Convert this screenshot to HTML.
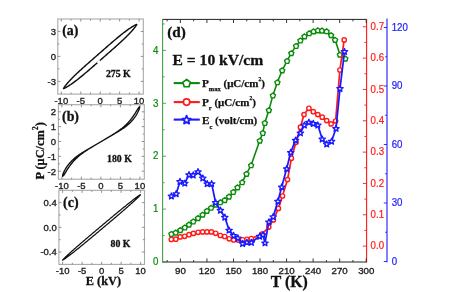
<!DOCTYPE html>
<html><head><meta charset="utf-8"><style>
html,body{margin:0;padding:0;background:#fff;width:473px;height:292px;overflow:hidden}
svg{display:block;will-change:transform;filter:blur(0.25px)}
</style></head><body>
<svg width="473" height="292" viewBox="0 0 473 292"><rect x="57.8" y="19" width="85.5" height="75.1" fill="none" stroke="#a8a8a8" stroke-width="1.1"/>
<line x1="61.3" y1="94.1" x2="61.3" y2="91.5" stroke="#777" stroke-width="0.8"/>
<line x1="61.3" y1="19" x2="61.3" y2="21.6" stroke="#777" stroke-width="0.8"/>
<line x1="71.03" y1="94.1" x2="71.03" y2="92.5" stroke="#777" stroke-width="0.8"/>
<line x1="71.03" y1="19" x2="71.03" y2="20.6" stroke="#777" stroke-width="0.8"/>
<line x1="80.75" y1="94.1" x2="80.75" y2="91.5" stroke="#777" stroke-width="0.8"/>
<line x1="80.75" y1="19" x2="80.75" y2="21.6" stroke="#777" stroke-width="0.8"/>
<line x1="90.48" y1="94.1" x2="90.48" y2="92.5" stroke="#777" stroke-width="0.8"/>
<line x1="90.48" y1="19" x2="90.48" y2="20.6" stroke="#777" stroke-width="0.8"/>
<line x1="100.2" y1="94.1" x2="100.2" y2="91.5" stroke="#777" stroke-width="0.8"/>
<line x1="100.2" y1="19" x2="100.2" y2="21.6" stroke="#777" stroke-width="0.8"/>
<line x1="109.92" y1="94.1" x2="109.92" y2="92.5" stroke="#777" stroke-width="0.8"/>
<line x1="109.92" y1="19" x2="109.92" y2="20.6" stroke="#777" stroke-width="0.8"/>
<line x1="119.65" y1="94.1" x2="119.65" y2="91.5" stroke="#777" stroke-width="0.8"/>
<line x1="119.65" y1="19" x2="119.65" y2="21.6" stroke="#777" stroke-width="0.8"/>
<line x1="129.38" y1="94.1" x2="129.38" y2="92.5" stroke="#777" stroke-width="0.8"/>
<line x1="129.38" y1="19" x2="129.38" y2="20.6" stroke="#777" stroke-width="0.8"/>
<line x1="139.1" y1="94.1" x2="139.1" y2="91.5" stroke="#777" stroke-width="0.8"/>
<line x1="139.1" y1="19" x2="139.1" y2="21.6" stroke="#777" stroke-width="0.8"/>
<line x1="57.8" y1="31.44" x2="60.4" y2="31.44" stroke="#777" stroke-width="0.8"/>
<line x1="143.3" y1="31.44" x2="140.7" y2="31.44" stroke="#777" stroke-width="0.8"/>
<text transform="translate(56,34.74) scale(1,1.0)" font-family="Liberation Sans" font-size="9.5" fill="#222" text-anchor="end" font-weight="normal" stroke="#222" stroke-width="0.35">3</text>
<line x1="57.8" y1="56.4" x2="60.4" y2="56.4" stroke="#777" stroke-width="0.8"/>
<line x1="143.3" y1="56.4" x2="140.7" y2="56.4" stroke="#777" stroke-width="0.8"/>
<text transform="translate(56,59.7) scale(1,1.0)" font-family="Liberation Sans" font-size="9.5" fill="#222" text-anchor="end" font-weight="normal" stroke="#222" stroke-width="0.35">0</text>
<line x1="57.8" y1="81.36" x2="60.4" y2="81.36" stroke="#777" stroke-width="0.8"/>
<line x1="143.3" y1="81.36" x2="140.7" y2="81.36" stroke="#777" stroke-width="0.8"/>
<text transform="translate(56,84.66) scale(1,1.0)" font-family="Liberation Sans" font-size="9.5" fill="#222" text-anchor="end" font-weight="normal" stroke="#222" stroke-width="0.35">-3</text>
<line x1="57.8" y1="43.92" x2="59.4" y2="43.92" stroke="#777" stroke-width="0.8"/>
<line x1="143.3" y1="43.92" x2="141.7" y2="43.92" stroke="#777" stroke-width="0.8"/>
<line x1="57.8" y1="68.88" x2="59.4" y2="68.88" stroke="#777" stroke-width="0.8"/>
<line x1="143.3" y1="68.88" x2="141.7" y2="68.88" stroke="#777" stroke-width="0.8"/>
<text transform="translate(61.3,103.7) scale(1,1.0)" font-family="Liberation Sans" font-size="9.5" fill="#222" text-anchor="middle" font-weight="normal" stroke="#222" stroke-width="0.35">-10</text>
<text transform="translate(80.75,103.7) scale(1,1.0)" font-family="Liberation Sans" font-size="9.5" fill="#222" text-anchor="middle" font-weight="normal" stroke="#222" stroke-width="0.35">-5</text>
<text transform="translate(100.2,103.7) scale(1,1.0)" font-family="Liberation Sans" font-size="9.5" fill="#222" text-anchor="middle" font-weight="normal" stroke="#222" stroke-width="0.35">0</text>
<text transform="translate(119.65,103.7) scale(1,1.0)" font-family="Liberation Sans" font-size="9.5" fill="#222" text-anchor="middle" font-weight="normal" stroke="#222" stroke-width="0.35">5</text>
<text transform="translate(139.1,103.7) scale(1,1.0)" font-family="Liberation Sans" font-size="9.5" fill="#222" text-anchor="middle" font-weight="normal" stroke="#222" stroke-width="0.35">10</text>
<text x="62.2" y="34.6" font-family="Liberation Serif" font-size="13.9" fill="#111" text-anchor="start" font-weight="bold" stroke="#111" stroke-width="0.3">(a)</text>
<text x="105.9" y="77.4" font-family="Liberation Serif" font-size="9.8" fill="#111" text-anchor="start" font-weight="bold" stroke="#111" stroke-width="0.3">275 K</text>
<rect x="58.4" y="104.7" width="85.9" height="74.5" fill="none" stroke="#a8a8a8" stroke-width="1.1"/>
<line x1="61.9" y1="179.2" x2="61.9" y2="176.6" stroke="#777" stroke-width="0.8"/>
<line x1="61.9" y1="104.7" x2="61.9" y2="107.3" stroke="#777" stroke-width="0.8"/>
<line x1="71.65" y1="179.2" x2="71.65" y2="177.6" stroke="#777" stroke-width="0.8"/>
<line x1="71.65" y1="104.7" x2="71.65" y2="106.3" stroke="#777" stroke-width="0.8"/>
<line x1="81.4" y1="179.2" x2="81.4" y2="176.6" stroke="#777" stroke-width="0.8"/>
<line x1="81.4" y1="104.7" x2="81.4" y2="107.3" stroke="#777" stroke-width="0.8"/>
<line x1="91.15" y1="179.2" x2="91.15" y2="177.6" stroke="#777" stroke-width="0.8"/>
<line x1="91.15" y1="104.7" x2="91.15" y2="106.3" stroke="#777" stroke-width="0.8"/>
<line x1="100.9" y1="179.2" x2="100.9" y2="176.6" stroke="#777" stroke-width="0.8"/>
<line x1="100.9" y1="104.7" x2="100.9" y2="107.3" stroke="#777" stroke-width="0.8"/>
<line x1="110.65" y1="179.2" x2="110.65" y2="177.6" stroke="#777" stroke-width="0.8"/>
<line x1="110.65" y1="104.7" x2="110.65" y2="106.3" stroke="#777" stroke-width="0.8"/>
<line x1="120.4" y1="179.2" x2="120.4" y2="176.6" stroke="#777" stroke-width="0.8"/>
<line x1="120.4" y1="104.7" x2="120.4" y2="107.3" stroke="#777" stroke-width="0.8"/>
<line x1="130.15" y1="179.2" x2="130.15" y2="177.6" stroke="#777" stroke-width="0.8"/>
<line x1="130.15" y1="104.7" x2="130.15" y2="106.3" stroke="#777" stroke-width="0.8"/>
<line x1="139.9" y1="179.2" x2="139.9" y2="176.6" stroke="#777" stroke-width="0.8"/>
<line x1="139.9" y1="104.7" x2="139.9" y2="107.3" stroke="#777" stroke-width="0.8"/>
<line x1="58.4" y1="111.8" x2="61" y2="111.8" stroke="#777" stroke-width="0.8"/>
<line x1="144.3" y1="111.8" x2="141.7" y2="111.8" stroke="#777" stroke-width="0.8"/>
<text transform="translate(56,115.1) scale(1,1.0)" font-family="Liberation Sans" font-size="9.5" fill="#222" text-anchor="end" font-weight="normal" stroke="#222" stroke-width="0.35">2</text>
<line x1="58.4" y1="126.65" x2="61" y2="126.65" stroke="#777" stroke-width="0.8"/>
<line x1="144.3" y1="126.65" x2="141.7" y2="126.65" stroke="#777" stroke-width="0.8"/>
<text transform="translate(56,129.95) scale(1,1.0)" font-family="Liberation Sans" font-size="9.5" fill="#222" text-anchor="end" font-weight="normal" stroke="#222" stroke-width="0.35">1</text>
<line x1="58.4" y1="141.5" x2="61" y2="141.5" stroke="#777" stroke-width="0.8"/>
<line x1="144.3" y1="141.5" x2="141.7" y2="141.5" stroke="#777" stroke-width="0.8"/>
<text transform="translate(56,144.8) scale(1,1.0)" font-family="Liberation Sans" font-size="9.5" fill="#222" text-anchor="end" font-weight="normal" stroke="#222" stroke-width="0.35">0</text>
<line x1="58.4" y1="156.35" x2="61" y2="156.35" stroke="#777" stroke-width="0.8"/>
<line x1="144.3" y1="156.35" x2="141.7" y2="156.35" stroke="#777" stroke-width="0.8"/>
<text transform="translate(56,159.65) scale(1,1.0)" font-family="Liberation Sans" font-size="9.5" fill="#222" text-anchor="end" font-weight="normal" stroke="#222" stroke-width="0.35">-1</text>
<line x1="58.4" y1="171.2" x2="61" y2="171.2" stroke="#777" stroke-width="0.8"/>
<line x1="144.3" y1="171.2" x2="141.7" y2="171.2" stroke="#777" stroke-width="0.8"/>
<text transform="translate(56,174.5) scale(1,1.0)" font-family="Liberation Sans" font-size="9.5" fill="#222" text-anchor="end" font-weight="normal" stroke="#222" stroke-width="0.35">-2</text>
<line x1="58.4" y1="119.22" x2="60" y2="119.22" stroke="#777" stroke-width="0.8"/>
<line x1="144.3" y1="119.22" x2="142.7" y2="119.22" stroke="#777" stroke-width="0.8"/>
<line x1="58.4" y1="134.07" x2="60" y2="134.07" stroke="#777" stroke-width="0.8"/>
<line x1="144.3" y1="134.07" x2="142.7" y2="134.07" stroke="#777" stroke-width="0.8"/>
<line x1="58.4" y1="148.93" x2="60" y2="148.93" stroke="#777" stroke-width="0.8"/>
<line x1="144.3" y1="148.93" x2="142.7" y2="148.93" stroke="#777" stroke-width="0.8"/>
<line x1="58.4" y1="163.78" x2="60" y2="163.78" stroke="#777" stroke-width="0.8"/>
<line x1="144.3" y1="163.78" x2="142.7" y2="163.78" stroke="#777" stroke-width="0.8"/>
<text transform="translate(61.9,188.8) scale(1,1.0)" font-family="Liberation Sans" font-size="9.5" fill="#222" text-anchor="middle" font-weight="normal" stroke="#222" stroke-width="0.35">-10</text>
<text transform="translate(81.4,188.8) scale(1,1.0)" font-family="Liberation Sans" font-size="9.5" fill="#222" text-anchor="middle" font-weight="normal" stroke="#222" stroke-width="0.35">-5</text>
<text transform="translate(100.9,188.8) scale(1,1.0)" font-family="Liberation Sans" font-size="9.5" fill="#222" text-anchor="middle" font-weight="normal" stroke="#222" stroke-width="0.35">0</text>
<text transform="translate(120.4,188.8) scale(1,1.0)" font-family="Liberation Sans" font-size="9.5" fill="#222" text-anchor="middle" font-weight="normal" stroke="#222" stroke-width="0.35">5</text>
<text transform="translate(139.9,188.8) scale(1,1.0)" font-family="Liberation Sans" font-size="9.5" fill="#222" text-anchor="middle" font-weight="normal" stroke="#222" stroke-width="0.35">10</text>
<text x="62" y="121.4" font-family="Liberation Serif" font-size="13.9" fill="#111" text-anchor="start" font-weight="bold" stroke="#111" stroke-width="0.3">(b)</text>
<text x="107" y="161.8" font-family="Liberation Serif" font-size="9.8" fill="#111" text-anchor="start" font-weight="bold" stroke="#111" stroke-width="0.3">180 K</text>
<rect x="58.9" y="190.3" width="85.6" height="74.1" fill="none" stroke="#a8a8a8" stroke-width="1.1"/>
<line x1="62.6" y1="264.4" x2="62.6" y2="261.8" stroke="#777" stroke-width="0.8"/>
<line x1="62.6" y1="190.3" x2="62.6" y2="192.9" stroke="#777" stroke-width="0.8"/>
<line x1="72.35" y1="264.4" x2="72.35" y2="262.8" stroke="#777" stroke-width="0.8"/>
<line x1="72.35" y1="190.3" x2="72.35" y2="191.9" stroke="#777" stroke-width="0.8"/>
<line x1="82.1" y1="264.4" x2="82.1" y2="261.8" stroke="#777" stroke-width="0.8"/>
<line x1="82.1" y1="190.3" x2="82.1" y2="192.9" stroke="#777" stroke-width="0.8"/>
<line x1="91.85" y1="264.4" x2="91.85" y2="262.8" stroke="#777" stroke-width="0.8"/>
<line x1="91.85" y1="190.3" x2="91.85" y2="191.9" stroke="#777" stroke-width="0.8"/>
<line x1="101.6" y1="264.4" x2="101.6" y2="261.8" stroke="#777" stroke-width="0.8"/>
<line x1="101.6" y1="190.3" x2="101.6" y2="192.9" stroke="#777" stroke-width="0.8"/>
<line x1="111.35" y1="264.4" x2="111.35" y2="262.8" stroke="#777" stroke-width="0.8"/>
<line x1="111.35" y1="190.3" x2="111.35" y2="191.9" stroke="#777" stroke-width="0.8"/>
<line x1="121.1" y1="264.4" x2="121.1" y2="261.8" stroke="#777" stroke-width="0.8"/>
<line x1="121.1" y1="190.3" x2="121.1" y2="192.9" stroke="#777" stroke-width="0.8"/>
<line x1="130.85" y1="264.4" x2="130.85" y2="262.8" stroke="#777" stroke-width="0.8"/>
<line x1="130.85" y1="190.3" x2="130.85" y2="191.9" stroke="#777" stroke-width="0.8"/>
<line x1="140.6" y1="264.4" x2="140.6" y2="261.8" stroke="#777" stroke-width="0.8"/>
<line x1="140.6" y1="190.3" x2="140.6" y2="192.9" stroke="#777" stroke-width="0.8"/>
<line x1="58.9" y1="202.6" x2="61.5" y2="202.6" stroke="#777" stroke-width="0.8"/>
<line x1="144.5" y1="202.6" x2="141.9" y2="202.6" stroke="#777" stroke-width="0.8"/>
<text transform="translate(56.8,205.9) scale(1,1.0)" font-family="Liberation Sans" font-size="9.5" fill="#222" text-anchor="end" font-weight="normal" stroke="#222" stroke-width="0.35">0.4</text>
<line x1="58.9" y1="227.3" x2="61.5" y2="227.3" stroke="#777" stroke-width="0.8"/>
<line x1="144.5" y1="227.3" x2="141.9" y2="227.3" stroke="#777" stroke-width="0.8"/>
<text transform="translate(56.8,230.6) scale(1,1.0)" font-family="Liberation Sans" font-size="9.5" fill="#222" text-anchor="end" font-weight="normal" stroke="#222" stroke-width="0.35">0.0</text>
<line x1="58.9" y1="252" x2="61.5" y2="252" stroke="#777" stroke-width="0.8"/>
<line x1="144.5" y1="252" x2="141.9" y2="252" stroke="#777" stroke-width="0.8"/>
<text transform="translate(56.8,255.3) scale(1,1.0)" font-family="Liberation Sans" font-size="9.5" fill="#222" text-anchor="end" font-weight="normal" stroke="#222" stroke-width="0.35">-0.4</text>
<line x1="58.9" y1="214.95" x2="60.5" y2="214.95" stroke="#777" stroke-width="0.8"/>
<line x1="144.5" y1="214.95" x2="142.9" y2="214.95" stroke="#777" stroke-width="0.8"/>
<line x1="58.9" y1="239.65" x2="60.5" y2="239.65" stroke="#777" stroke-width="0.8"/>
<line x1="144.5" y1="239.65" x2="142.9" y2="239.65" stroke="#777" stroke-width="0.8"/>
<text transform="translate(62.6,274) scale(1,1.0)" font-family="Liberation Sans" font-size="9.5" fill="#222" text-anchor="middle" font-weight="normal" stroke="#222" stroke-width="0.35">-10</text>
<text transform="translate(82.1,274) scale(1,1.0)" font-family="Liberation Sans" font-size="9.5" fill="#222" text-anchor="middle" font-weight="normal" stroke="#222" stroke-width="0.35">-5</text>
<text transform="translate(101.6,274) scale(1,1.0)" font-family="Liberation Sans" font-size="9.5" fill="#222" text-anchor="middle" font-weight="normal" stroke="#222" stroke-width="0.35">0</text>
<text transform="translate(121.1,274) scale(1,1.0)" font-family="Liberation Sans" font-size="9.5" fill="#222" text-anchor="middle" font-weight="normal" stroke="#222" stroke-width="0.35">5</text>
<text transform="translate(140.6,274) scale(1,1.0)" font-family="Liberation Sans" font-size="9.5" fill="#222" text-anchor="middle" font-weight="normal" stroke="#222" stroke-width="0.35">10</text>
<text x="63.1" y="207.4" font-family="Liberation Serif" font-size="13.9" fill="#111" text-anchor="start" font-weight="bold" stroke="#111" stroke-width="0.3">(c)</text>
<text x="110.6" y="246.8" font-family="Liberation Serif" font-size="9.8" fill="#111" text-anchor="start" font-weight="bold" stroke="#111" stroke-width="0.3">80 K</text>
<path d="M63.5,88.6 L63.9,87.82 L64.36,87.12 L64.84,86.44 L65.34,85.77 L65.85,85.12 L66.37,84.48 L66.89,83.84 L67.42,83.22 L67.96,82.6 L68.5,81.98 L69.05,81.38 L69.6,80.77 L70.15,80.18 L70.71,79.58 L71.28,78.99 L71.84,78.41 L72.41,77.83 L72.99,77.25 L73.56,76.67 L74.14,76.1 L74.72,75.53 L75.31,74.97 L75.89,74.4 L76.48,73.84 L77.07,73.28 L77.66,72.72 L78.25,72.17 L78.85,71.62 L79.44,71.06 L80.04,70.51 L80.64,69.97 L81.24,69.42 L81.84,68.87 L82.44,68.33 L83.05,67.78 L83.65,67.24 L84.26,66.7 L84.86,66.16 L85.47,65.62 L86.07,65.08 L86.68,64.54 L87.29,64 L87.9,63.46 L88.51,62.92 L89.12,62.39 L89.73,61.85 L90.33,61.31 L90.94,60.78 L91.55,60.24 L92.17,59.71 L92.78,59.17 L93.39,58.64 L94,58.1 L94.61,57.57 L95.22,57.03 L95.83,56.5 L96.44,55.96 L97.05,55.43 L97.66,54.89 L98.27,54.36 L98.88,53.82 L99.49,53.29 L100.1,52.75 L100.72,52.22 L101.33,51.68 L101.94,51.15 L102.55,50.61 L103.16,50.08 L103.77,49.54 L104.38,49.01 L104.99,48.47 L105.6,47.94 L106.22,47.4 L106.83,46.87 L107.44,46.34 L108.05,45.8 L108.67,45.27 L109.28,44.74 L109.89,44.21 L110.51,43.68 L111.12,43.15 L111.74,42.62 L112.35,42.09 L112.97,41.56 L113.59,41.03 L114.21,40.51 L114.83,39.98 L115.45,39.46 L116.07,38.94 L116.69,38.41 L117.32,37.89 L117.94,37.38 L118.57,36.86 L119.2,36.34 L119.83,35.83 L120.46,35.32 L121.09,34.81 L121.73,34.31 L122.37,33.8 L123.01,33.3 L123.65,32.8 L124.3,32.31 L124.95,31.82 L125.6,31.33 L126.25,30.84 L126.91,30.36 L127.57,29.89 L128.24,29.41 L128.91,28.95 L129.58,28.48 L130.26,28.03 L130.95,27.58 L131.64,27.13 L132.34,26.7 L133.04,26.27 L133.75,25.85 L134.48,25.45 L135.22,25.06 L135.98,24.69 L136.8,24.4 L136.8,24.4 L136.4,25.18 L135.94,25.88 L135.46,26.56 L134.96,27.23 L134.45,27.88 L133.93,28.52 L133.41,29.16 L132.88,29.78 L132.34,30.4 L131.8,31.02 L131.25,31.62 L130.7,32.23 L130.15,32.82 L129.59,33.42 L129.02,34.01 L128.46,34.59 L127.89,35.17 L127.31,35.75 L126.74,36.33 L126.16,36.9 L125.58,37.47 L124.99,38.03 L124.41,38.6 L123.82,39.16 L123.23,39.72 L122.64,40.28 L122.05,40.83 L121.45,41.38 L120.86,41.94 L120.26,42.49 L119.66,43.03 L119.06,43.58 L118.46,44.13 L117.86,44.67 L117.25,45.22 L116.65,45.76 L116.04,46.3 L115.44,46.84 L114.83,47.38 L114.23,47.92 L113.62,48.46 L113.01,49 L112.4,49.54 L111.79,50.08 L111.18,50.61 L110.57,51.15 L109.97,51.69 L109.36,52.22 L108.75,52.76 L108.13,53.29 L107.52,53.83 L106.91,54.36 L106.3,54.9 L105.69,55.43 L105.08,55.97 L104.47,56.5 L103.86,57.04 L103.25,57.57 L102.64,58.11 L102.03,58.64 L101.42,59.18 L100.81,59.71 L100.2,60.25 L99.58,60.78 L98.97,61.32 L98.36,61.85 L97.75,62.39 L97.14,62.92 L96.53,63.46 L95.92,63.99 L95.31,64.53 L94.7,65.06 L94.08,65.6 L93.47,66.13 L92.86,66.66 L92.25,67.2 L91.63,67.73 L91.02,68.26 L90.41,68.79 L89.79,69.32 L89.18,69.85 L88.56,70.38 L87.95,70.91 L87.33,71.44 L86.71,71.97 L86.09,72.49 L85.47,73.02 L84.85,73.54 L84.23,74.06 L83.61,74.59 L82.98,75.11 L82.36,75.62 L81.73,76.14 L81.1,76.66 L80.47,77.17 L79.84,77.68 L79.21,78.19 L78.57,78.69 L77.93,79.2 L77.29,79.7 L76.65,80.2 L76,80.69 L75.35,81.18 L74.7,81.67 L74.05,82.16 L73.39,82.64 L72.73,83.11 L72.06,83.59 L71.39,84.05 L70.72,84.52 L70.04,84.97 L69.35,85.42 L68.66,85.87 L67.96,86.3 L67.26,86.73 L66.55,87.15 L65.82,87.55 L65.08,87.94 L64.32,88.31 L63.5,88.6 Z" fill="none" stroke="#111" stroke-width="1.45" stroke-linejoin="round"/>
<line x1="97.5" y1="63.0" x2="99.9" y2="60.7" stroke="#fff" stroke-width="2.4"/>
<path d="M62.59,176.38 L62.73,174.79 L63.24,173.42 L63.8,172.14 L64.4,170.92 L65.01,169.77 L65.65,168.68 L66.29,167.65 L66.95,166.66 L67.61,165.73 L68.27,164.84 L68.94,163.99 L69.61,163.18 L70.29,162.41 L70.96,161.67 L71.64,160.97 L72.32,160.3 L72.99,159.66 L73.67,159.04 L74.34,158.45 L75.02,157.88 L75.69,157.33 L76.36,156.8 L77.03,156.29 L77.7,155.8 L78.36,155.32 L79.03,154.85 L79.69,154.4 L80.36,153.95 L81.02,153.52 L81.68,153.09 L82.33,152.68 L82.99,152.27 L83.65,151.86 L84.3,151.46 L84.96,151.07 L85.61,150.68 L86.26,150.29 L86.91,149.91 L87.56,149.52 L88.21,149.14 L88.86,148.76 L89.51,148.39 L90.16,148.01 L90.8,147.63 L91.45,147.26 L92.1,146.88 L92.74,146.51 L93.39,146.13 L94.03,145.75 L94.68,145.38 L95.32,145 L95.96,144.62 L96.6,144.25 L97.25,143.87 L97.89,143.49 L98.53,143.11 L99.17,142.74 L99.82,142.36 L100.46,141.98 L101.1,141.6 L101.74,141.22 L102.38,140.84 L103.03,140.46 L103.67,140.08 L104.31,139.71 L104.95,139.33 L105.59,138.95 L106.23,138.56 L106.87,138.18 L107.51,137.8 L108.15,137.42 L108.79,137.03 L109.43,136.65 L110.07,136.26 L110.71,135.87 L111.34,135.48 L111.98,135.09 L112.62,134.69 L113.25,134.3 L113.89,133.9 L114.52,133.49 L115.16,133.08 L115.79,132.67 L116.42,132.25 L117.05,131.83 L117.68,131.4 L118.31,130.97 L118.94,130.52 L119.56,130.08 L120.19,129.62 L120.81,129.15 L121.43,128.67 L122.06,128.19 L122.67,127.69 L123.29,127.18 L123.91,126.65 L124.53,126.12 L125.14,125.56 L125.75,124.99 L126.36,124.41 L126.97,123.8 L127.58,123.17 L128.19,122.53 L128.8,121.86 L129.41,121.16 L130.01,120.44 L130.62,119.7 L131.23,118.92 L131.84,118.11 L132.46,117.27 L133.08,116.39 L133.7,115.48 L134.33,114.53 L134.97,113.54 L135.62,112.5 L136.28,111.42 L136.97,110.3 L137.69,109.13 L138.47,107.92 L139.61,106.82 L139.61,106.82 L139.47,108.41 L138.96,109.78 L138.4,111.06 L137.8,112.28 L137.19,113.43 L136.55,114.52 L135.91,115.55 L135.25,116.54 L134.59,117.47 L133.93,118.36 L133.26,119.21 L132.59,120.02 L131.91,120.79 L131.24,121.53 L130.56,122.23 L129.88,122.9 L129.21,123.54 L128.53,124.16 L127.86,124.75 L127.18,125.32 L126.51,125.87 L125.84,126.4 L125.17,126.91 L124.5,127.4 L123.84,127.88 L123.17,128.35 L122.51,128.8 L121.84,129.25 L121.18,129.68 L120.52,130.11 L119.87,130.52 L119.21,130.93 L118.55,131.34 L117.9,131.74 L117.24,132.13 L116.59,132.52 L115.94,132.91 L115.29,133.29 L114.64,133.68 L113.99,134.06 L113.34,134.44 L112.69,134.81 L112.04,135.19 L111.4,135.57 L110.75,135.94 L110.1,136.32 L109.46,136.69 L108.81,137.07 L108.17,137.45 L107.52,137.82 L106.88,138.2 L106.24,138.58 L105.6,138.95 L104.95,139.33 L104.31,139.71 L103.67,140.09 L103.03,140.46 L102.38,140.84 L101.74,141.22 L101.1,141.6 L100.46,141.98 L99.82,142.36 L99.17,142.74 L98.53,143.12 L97.89,143.49 L97.25,143.87 L96.61,144.25 L95.97,144.64 L95.33,145.02 L94.69,145.4 L94.05,145.78 L93.41,146.17 L92.77,146.55 L92.13,146.94 L91.49,147.33 L90.86,147.72 L90.22,148.11 L89.58,148.51 L88.95,148.9 L88.31,149.3 L87.68,149.71 L87.04,150.12 L86.41,150.53 L85.78,150.95 L85.15,151.37 L84.52,151.8 L83.89,152.23 L83.26,152.68 L82.64,153.12 L82.01,153.58 L81.39,154.05 L80.77,154.53 L80.14,155.01 L79.53,155.51 L78.91,156.02 L78.29,156.55 L77.67,157.08 L77.06,157.64 L76.45,158.21 L75.84,158.79 L75.23,159.4 L74.62,160.03 L74.01,160.67 L73.4,161.34 L72.79,162.04 L72.19,162.76 L71.58,163.5 L70.97,164.28 L70.36,165.09 L69.74,165.93 L69.12,166.81 L68.5,167.72 L67.87,168.67 L67.23,169.66 L66.58,170.7 L65.92,171.78 L65.23,172.9 L64.51,174.07 L63.73,175.28 L62.59,176.38 Z" fill="none" stroke="#111" stroke-width="1.35" stroke-linejoin="round"/>
<path d="M62.6,260.2 L63.12,259.5 L63.7,258.87 L64.3,258.27 L64.9,257.67 L65.51,257.07 L66.13,256.49 L66.75,255.9 L67.37,255.32 L67.99,254.75 L68.61,254.17 L69.24,253.6 L69.87,253.03 L70.5,252.46 L71.13,251.89 L71.76,251.32 L72.39,250.76 L73.03,250.19 L73.66,249.63 L74.3,249.07 L74.93,248.51 L75.57,247.95 L76.21,247.39 L76.85,246.83 L77.48,246.27 L78.12,245.72 L78.77,245.16 L79.41,244.6 L80.05,244.05 L80.69,243.5 L81.33,242.94 L81.98,242.39 L82.62,241.84 L83.26,241.28 L83.91,240.73 L84.55,240.18 L85.2,239.63 L85.84,239.08 L86.49,238.53 L87.13,237.98 L87.78,237.43 L88.43,236.88 L89.07,236.33 L89.72,235.79 L90.37,235.24 L91.02,234.69 L91.66,234.14 L92.31,233.59 L92.96,233.05 L93.61,232.5 L94.26,231.95 L94.9,231.41 L95.55,230.86 L96.2,230.32 L96.85,229.77 L97.5,229.22 L98.15,228.68 L98.8,228.13 L99.45,227.58 L100.1,227.04 L100.75,226.49 L101.39,225.95 L102.04,225.4 L102.69,224.86 L103.34,224.31 L103.99,223.76 L104.64,223.22 L105.29,222.67 L105.94,222.13 L106.59,221.58 L107.24,221.04 L107.89,220.49 L108.54,219.95 L109.19,219.4 L109.84,218.86 L110.49,218.31 L111.14,217.77 L111.79,217.23 L112.44,216.68 L113.1,216.14 L113.75,215.6 L114.4,215.06 L115.05,214.51 L115.7,213.97 L116.36,213.43 L117.01,212.89 L117.66,212.35 L118.32,211.81 L118.97,211.27 L119.63,210.73 L120.28,210.19 L120.94,209.65 L121.59,209.12 L122.25,208.58 L122.91,208.04 L123.57,207.51 L124.22,206.97 L124.88,206.44 L125.54,205.91 L126.2,205.37 L126.87,204.84 L127.53,204.31 L128.19,203.78 L128.85,203.25 L129.52,202.73 L130.18,202.2 L130.85,201.67 L131.52,201.15 L132.19,200.63 L132.86,200.11 L133.53,199.59 L134.2,199.07 L134.88,198.56 L135.56,198.05 L136.24,197.54 L136.92,197.03 L137.61,196.53 L138.3,196.04 L139,195.56 L139.72,195.09 L140.5,194.7 L140.5,194.7 L139.98,195.4 L139.4,196.03 L138.8,196.63 L138.2,197.23 L137.59,197.83 L136.97,198.41 L136.35,199 L135.73,199.58 L135.11,200.15 L134.49,200.73 L133.86,201.3 L133.23,201.87 L132.6,202.44 L131.97,203.01 L131.34,203.58 L130.71,204.14 L130.07,204.71 L129.44,205.27 L128.8,205.83 L128.17,206.39 L127.53,206.95 L126.89,207.51 L126.25,208.07 L125.62,208.63 L124.98,209.18 L124.33,209.74 L123.69,210.3 L123.05,210.85 L122.41,211.4 L121.77,211.96 L121.12,212.51 L120.48,213.06 L119.84,213.62 L119.19,214.17 L118.55,214.72 L117.9,215.27 L117.26,215.82 L116.61,216.37 L115.97,216.92 L115.32,217.47 L114.67,218.02 L114.03,218.57 L113.38,219.11 L112.73,219.66 L112.08,220.21 L111.44,220.76 L110.79,221.31 L110.14,221.85 L109.49,222.4 L108.84,222.95 L108.2,223.49 L107.55,224.04 L106.9,224.58 L106.25,225.13 L105.6,225.68 L104.95,226.22 L104.3,226.77 L103.65,227.32 L103,227.86 L102.35,228.41 L101.71,228.95 L101.06,229.5 L100.41,230.04 L99.76,230.59 L99.11,231.14 L98.46,231.68 L97.81,232.23 L97.16,232.77 L96.51,233.32 L95.86,233.86 L95.21,234.41 L94.56,234.95 L93.91,235.5 L93.26,236.04 L92.61,236.59 L91.96,237.13 L91.31,237.67 L90.66,238.22 L90,238.76 L89.35,239.3 L88.7,239.84 L88.05,240.39 L87.4,240.93 L86.74,241.47 L86.09,242.01 L85.44,242.55 L84.78,243.09 L84.13,243.63 L83.47,244.17 L82.82,244.71 L82.16,245.25 L81.51,245.78 L80.85,246.32 L80.19,246.86 L79.53,247.39 L78.88,247.93 L78.22,248.46 L77.56,248.99 L76.9,249.53 L76.23,250.06 L75.57,250.59 L74.91,251.12 L74.25,251.65 L73.58,252.17 L72.92,252.7 L72.25,253.23 L71.58,253.75 L70.91,254.27 L70.24,254.79 L69.57,255.31 L68.9,255.83 L68.22,256.34 L67.54,256.85 L66.86,257.36 L66.18,257.87 L65.49,258.37 L64.8,258.86 L64.1,259.34 L63.38,259.81 L62.6,260.2 Z" fill="none" stroke="#111" stroke-width="1.25" stroke-linejoin="round"/>
<text transform="translate(44.2,179.5) rotate(-90)" font-family="Liberation Serif" font-size="12.4" font-weight="bold" fill="#111" stroke="#111" stroke-width="0.3">P (&#956;C/cm<tspan dy="-6.2" dx="0.1" font-size="7.4">2</tspan><tspan dy="6.2" dx="0.1">)</tspan></text>
<text x="85.8" y="284.8" font-family="Liberation Serif" font-size="12.3" fill="#111" text-anchor="start" font-weight="bold" stroke="#111" stroke-width="0.3">E (kV)</text>
<line x1="162.1" y1="19.4" x2="366.6" y2="19.4" stroke="#222" stroke-width="1"/>
<line x1="162.1" y1="262" x2="366.6" y2="262" stroke="#222" stroke-width="1"/>
<line x1="162.6" y1="18.9" x2="162.6" y2="262.5" stroke="#3fa03f" stroke-width="1.1"/>
<line x1="366.6" y1="18.9" x2="366.6" y2="262.5" stroke="#ff1a1a" stroke-width="1.1"/>
<line x1="387" y1="18.5" x2="387" y2="262.3" stroke="#1a1aff" stroke-width="1.1"/>
<line x1="167.13" y1="262" x2="167.13" y2="260" stroke="#222" stroke-width="0.9"/>
<line x1="167.13" y1="19.4" x2="167.13" y2="21.4" stroke="#222" stroke-width="0.9"/>
<line x1="180.4" y1="262" x2="180.4" y2="258.4" stroke="#222" stroke-width="0.9"/>
<line x1="180.4" y1="19.4" x2="180.4" y2="23" stroke="#222" stroke-width="0.9"/>
<text transform="translate(180.4,273.8) scale(1,1.0)" font-family="Liberation Sans" font-size="9.7" fill="#222" text-anchor="middle" font-weight="normal" stroke="#222" stroke-width="0.35">90</text>
<line x1="193.67" y1="262" x2="193.67" y2="260" stroke="#222" stroke-width="0.9"/>
<line x1="193.67" y1="19.4" x2="193.67" y2="21.4" stroke="#222" stroke-width="0.9"/>
<line x1="206.94" y1="262" x2="206.94" y2="258.4" stroke="#222" stroke-width="0.9"/>
<line x1="206.94" y1="19.4" x2="206.94" y2="23" stroke="#222" stroke-width="0.9"/>
<text transform="translate(206.94,273.8) scale(1,1.0)" font-family="Liberation Sans" font-size="9.7" fill="#222" text-anchor="middle" font-weight="normal" stroke="#222" stroke-width="0.35">120</text>
<line x1="220.22" y1="262" x2="220.22" y2="260" stroke="#222" stroke-width="0.9"/>
<line x1="220.22" y1="19.4" x2="220.22" y2="21.4" stroke="#222" stroke-width="0.9"/>
<line x1="233.49" y1="262" x2="233.49" y2="258.4" stroke="#222" stroke-width="0.9"/>
<line x1="233.49" y1="19.4" x2="233.49" y2="23" stroke="#222" stroke-width="0.9"/>
<text transform="translate(233.49,273.8) scale(1,1.0)" font-family="Liberation Sans" font-size="9.7" fill="#222" text-anchor="middle" font-weight="normal" stroke="#222" stroke-width="0.35">150</text>
<line x1="246.76" y1="262" x2="246.76" y2="260" stroke="#222" stroke-width="0.9"/>
<line x1="246.76" y1="19.4" x2="246.76" y2="21.4" stroke="#222" stroke-width="0.9"/>
<line x1="260.03" y1="262" x2="260.03" y2="258.4" stroke="#222" stroke-width="0.9"/>
<line x1="260.03" y1="19.4" x2="260.03" y2="23" stroke="#222" stroke-width="0.9"/>
<text transform="translate(260.03,273.8) scale(1,1.0)" font-family="Liberation Sans" font-size="9.7" fill="#222" text-anchor="middle" font-weight="normal" stroke="#222" stroke-width="0.35">180</text>
<line x1="273.3" y1="262" x2="273.3" y2="260" stroke="#222" stroke-width="0.9"/>
<line x1="273.3" y1="19.4" x2="273.3" y2="21.4" stroke="#222" stroke-width="0.9"/>
<line x1="286.58" y1="262" x2="286.58" y2="258.4" stroke="#222" stroke-width="0.9"/>
<line x1="286.58" y1="19.4" x2="286.58" y2="23" stroke="#222" stroke-width="0.9"/>
<text transform="translate(286.58,273.8) scale(1,1.0)" font-family="Liberation Sans" font-size="9.7" fill="#222" text-anchor="middle" font-weight="normal" stroke="#222" stroke-width="0.35">210</text>
<line x1="299.85" y1="262" x2="299.85" y2="260" stroke="#222" stroke-width="0.9"/>
<line x1="299.85" y1="19.4" x2="299.85" y2="21.4" stroke="#222" stroke-width="0.9"/>
<line x1="313.12" y1="262" x2="313.12" y2="258.4" stroke="#222" stroke-width="0.9"/>
<line x1="313.12" y1="19.4" x2="313.12" y2="23" stroke="#222" stroke-width="0.9"/>
<text transform="translate(313.12,273.8) scale(1,1.0)" font-family="Liberation Sans" font-size="9.7" fill="#222" text-anchor="middle" font-weight="normal" stroke="#222" stroke-width="0.35">240</text>
<line x1="326.39" y1="262" x2="326.39" y2="260" stroke="#222" stroke-width="0.9"/>
<line x1="326.39" y1="19.4" x2="326.39" y2="21.4" stroke="#222" stroke-width="0.9"/>
<line x1="339.66" y1="262" x2="339.66" y2="258.4" stroke="#222" stroke-width="0.9"/>
<line x1="339.66" y1="19.4" x2="339.66" y2="23" stroke="#222" stroke-width="0.9"/>
<text transform="translate(339.66,273.8) scale(1,1.0)" font-family="Liberation Sans" font-size="9.7" fill="#222" text-anchor="middle" font-weight="normal" stroke="#222" stroke-width="0.35">270</text>
<line x1="352.94" y1="262" x2="352.94" y2="260" stroke="#222" stroke-width="0.9"/>
<line x1="352.94" y1="19.4" x2="352.94" y2="21.4" stroke="#222" stroke-width="0.9"/>
<line x1="366.21" y1="262" x2="366.21" y2="258.4" stroke="#222" stroke-width="0.9"/>
<line x1="366.21" y1="19.4" x2="366.21" y2="23" stroke="#222" stroke-width="0.9"/>
<text transform="translate(366.21,273.8) scale(1,1.0)" font-family="Liberation Sans" font-size="9.7" fill="#222" text-anchor="middle" font-weight="normal" stroke="#222" stroke-width="0.35">300</text>
<line x1="162.6" y1="262" x2="166" y2="262" stroke="#3fa03f" stroke-width="0.9"/>
<text transform="translate(158.5,265.2) scale(1,1.1)" font-family="Liberation Sans" font-size="9.7" fill="#0a8a0a" text-anchor="end" font-weight="normal" stroke="#0a8a0a" stroke-width="0.2">0</text>
<line x1="162.6" y1="235.55" x2="164.6" y2="235.55" stroke="#3fa03f" stroke-width="0.9"/>
<line x1="162.6" y1="209.1" x2="166" y2="209.1" stroke="#3fa03f" stroke-width="0.9"/>
<text transform="translate(158.5,212.3) scale(1,1.1)" font-family="Liberation Sans" font-size="9.7" fill="#0a8a0a" text-anchor="end" font-weight="normal" stroke="#0a8a0a" stroke-width="0.2">1</text>
<line x1="162.6" y1="182.65" x2="164.6" y2="182.65" stroke="#3fa03f" stroke-width="0.9"/>
<line x1="162.6" y1="156.2" x2="166" y2="156.2" stroke="#3fa03f" stroke-width="0.9"/>
<text transform="translate(158.5,159.4) scale(1,1.1)" font-family="Liberation Sans" font-size="9.7" fill="#0a8a0a" text-anchor="end" font-weight="normal" stroke="#0a8a0a" stroke-width="0.2">2</text>
<line x1="162.6" y1="129.75" x2="164.6" y2="129.75" stroke="#3fa03f" stroke-width="0.9"/>
<line x1="162.6" y1="103.3" x2="166" y2="103.3" stroke="#3fa03f" stroke-width="0.9"/>
<text transform="translate(158.5,106.5) scale(1,1.1)" font-family="Liberation Sans" font-size="9.7" fill="#0a8a0a" text-anchor="end" font-weight="normal" stroke="#0a8a0a" stroke-width="0.2">3</text>
<line x1="162.6" y1="76.85" x2="164.6" y2="76.85" stroke="#3fa03f" stroke-width="0.9"/>
<line x1="162.6" y1="50.4" x2="166" y2="50.4" stroke="#3fa03f" stroke-width="0.9"/>
<text transform="translate(158.5,53.6) scale(1,1.1)" font-family="Liberation Sans" font-size="9.7" fill="#0a8a0a" text-anchor="end" font-weight="normal" stroke="#0a8a0a" stroke-width="0.2">4</text>
<line x1="162.6" y1="23.95" x2="164.6" y2="23.95" stroke="#3fa03f" stroke-width="0.9"/>
<line x1="366.6" y1="246.1" x2="362.8" y2="246.1" stroke="#ff1a1a" stroke-width="0.9"/>
<text transform="translate(370.6,249.3) scale(1,1.1)" font-family="Liberation Sans" font-size="9.7" fill="#ff1a1a" text-anchor="start" font-weight="normal" stroke="#ff1a1a" stroke-width="0.2">0.0</text>
<line x1="366.6" y1="230.44" x2="364.4" y2="230.44" stroke="#ff1a1a" stroke-width="0.9"/>
<line x1="366.6" y1="214.77" x2="362.8" y2="214.77" stroke="#ff1a1a" stroke-width="0.9"/>
<text transform="translate(370.6,217.97) scale(1,1.1)" font-family="Liberation Sans" font-size="9.7" fill="#ff1a1a" text-anchor="start" font-weight="normal" stroke="#ff1a1a" stroke-width="0.2">0.1</text>
<line x1="366.6" y1="199.1" x2="364.4" y2="199.1" stroke="#ff1a1a" stroke-width="0.9"/>
<line x1="366.6" y1="183.44" x2="362.8" y2="183.44" stroke="#ff1a1a" stroke-width="0.9"/>
<text transform="translate(370.6,186.64) scale(1,1.1)" font-family="Liberation Sans" font-size="9.7" fill="#ff1a1a" text-anchor="start" font-weight="normal" stroke="#ff1a1a" stroke-width="0.2">0.2</text>
<line x1="366.6" y1="167.77" x2="364.4" y2="167.77" stroke="#ff1a1a" stroke-width="0.9"/>
<line x1="366.6" y1="152.11" x2="362.8" y2="152.11" stroke="#ff1a1a" stroke-width="0.9"/>
<text transform="translate(370.6,155.31) scale(1,1.1)" font-family="Liberation Sans" font-size="9.7" fill="#ff1a1a" text-anchor="start" font-weight="normal" stroke="#ff1a1a" stroke-width="0.2">0.3</text>
<line x1="366.6" y1="136.44" x2="364.4" y2="136.44" stroke="#ff1a1a" stroke-width="0.9"/>
<line x1="366.6" y1="120.78" x2="362.8" y2="120.78" stroke="#ff1a1a" stroke-width="0.9"/>
<text transform="translate(370.6,123.98) scale(1,1.1)" font-family="Liberation Sans" font-size="9.7" fill="#ff1a1a" text-anchor="start" font-weight="normal" stroke="#ff1a1a" stroke-width="0.2">0.4</text>
<line x1="366.6" y1="105.11" x2="364.4" y2="105.11" stroke="#ff1a1a" stroke-width="0.9"/>
<line x1="366.6" y1="89.45" x2="362.8" y2="89.45" stroke="#ff1a1a" stroke-width="0.9"/>
<text transform="translate(370.6,92.65) scale(1,1.1)" font-family="Liberation Sans" font-size="9.7" fill="#ff1a1a" text-anchor="start" font-weight="normal" stroke="#ff1a1a" stroke-width="0.2">0.5</text>
<line x1="366.6" y1="73.78" x2="364.4" y2="73.78" stroke="#ff1a1a" stroke-width="0.9"/>
<line x1="366.6" y1="58.12" x2="362.8" y2="58.12" stroke="#ff1a1a" stroke-width="0.9"/>
<text transform="translate(370.6,61.32) scale(1,1.1)" font-family="Liberation Sans" font-size="9.7" fill="#ff1a1a" text-anchor="start" font-weight="normal" stroke="#ff1a1a" stroke-width="0.2">0.6</text>
<line x1="366.6" y1="42.45" x2="364.4" y2="42.45" stroke="#ff1a1a" stroke-width="0.9"/>
<line x1="366.6" y1="26.79" x2="362.8" y2="26.79" stroke="#ff1a1a" stroke-width="0.9"/>
<text transform="translate(370.6,29.99) scale(1,1.1)" font-family="Liberation Sans" font-size="9.7" fill="#ff1a1a" text-anchor="start" font-weight="normal" stroke="#ff1a1a" stroke-width="0.2">0.7</text>
<line x1="387" y1="261.5" x2="383.8" y2="261.5" stroke="#1a1aff" stroke-width="0.9"/>
<text transform="translate(391.7,264.7) scale(1,1.1)" font-family="Liberation Sans" font-size="9.7" fill="#1a1aff" text-anchor="start" font-weight="normal" stroke="#1a1aff" stroke-width="0.2">0</text>
<line x1="387" y1="232.25" x2="385.2" y2="232.25" stroke="#1a1aff" stroke-width="0.9"/>
<line x1="387" y1="203" x2="383.8" y2="203" stroke="#1a1aff" stroke-width="0.9"/>
<text transform="translate(391.7,206.2) scale(1,1.1)" font-family="Liberation Sans" font-size="9.7" fill="#1a1aff" text-anchor="start" font-weight="normal" stroke="#1a1aff" stroke-width="0.2">30</text>
<line x1="387" y1="173.75" x2="385.2" y2="173.75" stroke="#1a1aff" stroke-width="0.9"/>
<line x1="387" y1="144.5" x2="383.8" y2="144.5" stroke="#1a1aff" stroke-width="0.9"/>
<text transform="translate(391.7,147.7) scale(1,1.1)" font-family="Liberation Sans" font-size="9.7" fill="#1a1aff" text-anchor="start" font-weight="normal" stroke="#1a1aff" stroke-width="0.2">60</text>
<line x1="387" y1="115.25" x2="385.2" y2="115.25" stroke="#1a1aff" stroke-width="0.9"/>
<line x1="387" y1="86" x2="383.8" y2="86" stroke="#1a1aff" stroke-width="0.9"/>
<text transform="translate(391.7,89.2) scale(1,1.1)" font-family="Liberation Sans" font-size="9.7" fill="#1a1aff" text-anchor="start" font-weight="normal" stroke="#1a1aff" stroke-width="0.2">90</text>
<line x1="387" y1="56.75" x2="385.2" y2="56.75" stroke="#1a1aff" stroke-width="0.9"/>
<line x1="387" y1="27.5" x2="383.8" y2="27.5" stroke="#1a1aff" stroke-width="0.9"/>
<text transform="translate(391.7,30.7) scale(1,1.1)" font-family="Liberation Sans" font-size="9.7" fill="#1a1aff" text-anchor="start" font-weight="normal" stroke="#1a1aff" stroke-width="0.2">120</text>
<polyline points="171.4,233.9 175.7,232.5 180.3,230 184.8,227.4 189,224.5 193.3,221.4 198,218 202.6,214.6 206.9,210.8 211.1,207.7 215.7,204.5 220.3,202.2 224.7,200 229,196.5 233.3,191.9 237.5,187.3 242.2,182.2 246.5,173.8 251.1,165.2 259.8,140.6 262.8,132.9 264.8,122.9 268.9,110.1 272.9,95.4 277.4,82.2 282.2,70.3 287.1,60.9 291.3,53.1 296.1,45.9 300.4,40.4 304.5,36.3 309.2,33.2 313.6,31.3 317.9,30.3 322,30.5 326.6,31.2 331.1,35.1 335.1,39.8 339.9,54.6 345.3,58.5" fill="none" stroke="#0a8a0a" stroke-width="1.6" stroke-linejoin="round"/>
<polygon points="171.4,231.55 173.92,233.38 172.96,236.34 169.84,236.34 168.88,233.38" fill="#fff" stroke="#0a8a0a" stroke-width="1.4"/>
<polygon points="175.7,230.15 178.22,231.98 177.26,234.94 174.14,234.94 173.18,231.98" fill="#fff" stroke="#0a8a0a" stroke-width="1.4"/>
<polygon points="180.3,227.65 182.82,229.48 181.86,232.44 178.74,232.44 177.78,229.48" fill="#fff" stroke="#0a8a0a" stroke-width="1.4"/>
<polygon points="184.8,225.05 187.32,226.88 186.36,229.84 183.24,229.84 182.28,226.88" fill="#fff" stroke="#0a8a0a" stroke-width="1.4"/>
<polygon points="189,222.15 191.52,223.98 190.56,226.94 187.44,226.94 186.48,223.98" fill="#fff" stroke="#0a8a0a" stroke-width="1.4"/>
<polygon points="193.3,219.05 195.82,220.88 194.86,223.84 191.74,223.84 190.78,220.88" fill="#fff" stroke="#0a8a0a" stroke-width="1.4"/>
<polygon points="198,215.65 200.52,217.48 199.56,220.44 196.44,220.44 195.48,217.48" fill="#fff" stroke="#0a8a0a" stroke-width="1.4"/>
<polygon points="202.6,212.25 205.12,214.08 204.16,217.04 201.04,217.04 200.08,214.08" fill="#fff" stroke="#0a8a0a" stroke-width="1.4"/>
<polygon points="206.9,208.45 209.42,210.28 208.46,213.24 205.34,213.24 204.38,210.28" fill="#fff" stroke="#0a8a0a" stroke-width="1.4"/>
<polygon points="211.1,205.35 213.62,207.18 212.66,210.14 209.54,210.14 208.58,207.18" fill="#fff" stroke="#0a8a0a" stroke-width="1.4"/>
<polygon points="215.7,202.15 218.22,203.98 217.26,206.94 214.14,206.94 213.18,203.98" fill="#fff" stroke="#0a8a0a" stroke-width="1.4"/>
<polygon points="220.3,199.85 222.82,201.68 221.86,204.64 218.74,204.64 217.78,201.68" fill="#fff" stroke="#0a8a0a" stroke-width="1.4"/>
<polygon points="224.7,197.65 227.22,199.48 226.26,202.44 223.14,202.44 222.18,199.48" fill="#fff" stroke="#0a8a0a" stroke-width="1.4"/>
<polygon points="229,194.15 231.52,195.98 230.56,198.94 227.44,198.94 226.48,195.98" fill="#fff" stroke="#0a8a0a" stroke-width="1.4"/>
<polygon points="233.3,189.55 235.82,191.38 234.86,194.34 231.74,194.34 230.78,191.38" fill="#fff" stroke="#0a8a0a" stroke-width="1.4"/>
<polygon points="237.5,184.95 240.02,186.78 239.06,189.74 235.94,189.74 234.98,186.78" fill="#fff" stroke="#0a8a0a" stroke-width="1.4"/>
<polygon points="242.2,179.85 244.72,181.68 243.76,184.64 240.64,184.64 239.68,181.68" fill="#fff" stroke="#0a8a0a" stroke-width="1.4"/>
<polygon points="246.5,171.45 249.02,173.28 248.06,176.24 244.94,176.24 243.98,173.28" fill="#fff" stroke="#0a8a0a" stroke-width="1.4"/>
<polygon points="251.1,162.85 253.62,164.68 252.66,167.64 249.54,167.64 248.58,164.68" fill="#fff" stroke="#0a8a0a" stroke-width="1.4"/>
<polygon points="259.8,138.25 262.32,140.08 261.36,143.04 258.24,143.04 257.28,140.08" fill="#fff" stroke="#0a8a0a" stroke-width="1.4"/>
<polygon points="262.8,130.55 265.32,132.38 264.36,135.34 261.24,135.34 260.28,132.38" fill="#fff" stroke="#0a8a0a" stroke-width="1.4"/>
<polygon points="264.8,120.55 267.32,122.38 266.36,125.34 263.24,125.34 262.28,122.38" fill="#fff" stroke="#0a8a0a" stroke-width="1.4"/>
<polygon points="268.9,107.75 271.42,109.58 270.46,112.54 267.34,112.54 266.38,109.58" fill="#fff" stroke="#0a8a0a" stroke-width="1.4"/>
<polygon points="272.9,93.05 275.42,94.88 274.46,97.84 271.34,97.84 270.38,94.88" fill="#fff" stroke="#0a8a0a" stroke-width="1.4"/>
<polygon points="277.4,79.85 279.92,81.68 278.96,84.64 275.84,84.64 274.88,81.68" fill="#fff" stroke="#0a8a0a" stroke-width="1.4"/>
<polygon points="282.2,67.95 284.72,69.78 283.76,72.74 280.64,72.74 279.68,69.78" fill="#fff" stroke="#0a8a0a" stroke-width="1.4"/>
<polygon points="287.1,58.55 289.62,60.38 288.66,63.34 285.54,63.34 284.58,60.38" fill="#fff" stroke="#0a8a0a" stroke-width="1.4"/>
<polygon points="291.3,50.75 293.82,52.58 292.86,55.54 289.74,55.54 288.78,52.58" fill="#fff" stroke="#0a8a0a" stroke-width="1.4"/>
<polygon points="296.1,43.55 298.62,45.38 297.66,48.34 294.54,48.34 293.58,45.38" fill="#fff" stroke="#0a8a0a" stroke-width="1.4"/>
<polygon points="300.4,38.05 302.92,39.88 301.96,42.84 298.84,42.84 297.88,39.88" fill="#fff" stroke="#0a8a0a" stroke-width="1.4"/>
<polygon points="304.5,33.95 307.02,35.78 306.06,38.74 302.94,38.74 301.98,35.78" fill="#fff" stroke="#0a8a0a" stroke-width="1.4"/>
<polygon points="309.2,30.85 311.72,32.68 310.76,35.64 307.64,35.64 306.68,32.68" fill="#fff" stroke="#0a8a0a" stroke-width="1.4"/>
<polygon points="313.6,28.95 316.12,30.78 315.16,33.74 312.04,33.74 311.08,30.78" fill="#fff" stroke="#0a8a0a" stroke-width="1.4"/>
<polygon points="317.9,27.95 320.42,29.78 319.46,32.74 316.34,32.74 315.38,29.78" fill="#fff" stroke="#0a8a0a" stroke-width="1.4"/>
<polygon points="322,28.15 324.52,29.98 323.56,32.94 320.44,32.94 319.48,29.98" fill="#fff" stroke="#0a8a0a" stroke-width="1.4"/>
<polygon points="326.6,28.85 329.12,30.68 328.16,33.64 325.04,33.64 324.08,30.68" fill="#fff" stroke="#0a8a0a" stroke-width="1.4"/>
<polygon points="331.1,32.75 333.62,34.58 332.66,37.54 329.54,37.54 328.58,34.58" fill="#fff" stroke="#0a8a0a" stroke-width="1.4"/>
<polygon points="335.1,37.45 337.62,39.28 336.66,42.24 333.54,42.24 332.58,39.28" fill="#fff" stroke="#0a8a0a" stroke-width="1.4"/>
<polygon points="339.9,52.25 342.42,54.08 341.46,57.04 338.34,57.04 337.38,54.08" fill="#fff" stroke="#0a8a0a" stroke-width="1.4"/>
<polygon points="345.3,56.15 347.82,57.98 346.86,60.94 343.74,60.94 342.78,57.98" fill="#fff" stroke="#0a8a0a" stroke-width="1.4"/>
<polyline points="171.3,239.5 175.8,239.2 180.2,236.9 184.6,236.3 189,234.7 193.4,233.4 198.1,232.3 202.6,231.9 207,231.9 211.4,231.9 215.7,233.3 220.3,235.5 224.7,236.5 229.2,238.8 233.7,240 238.2,240.1 242.6,239.8 246.9,239.3 251.3,238.5 262,234.1 268.8,227.1 273.4,219.9 278.4,208.4 282.5,196 287.5,179.6 291.4,158.3 296,142.3 300.4,127.2 304,114.6 308.9,108.3 313.3,111.7 317.8,114.6 322.2,117.2 326.7,120.6 331.1,123.9 335.6,121 339.9,70 344.2,39.9" fill="none" stroke="#ff1a1a" stroke-width="1.7" stroke-linejoin="round"/>
<circle cx="171.3" cy="239.5" r="2.15" fill="#fff" stroke="#ff1a1a" stroke-width="1.4"/>
<circle cx="175.8" cy="239.2" r="2.15" fill="#fff" stroke="#ff1a1a" stroke-width="1.4"/>
<circle cx="180.2" cy="236.9" r="2.15" fill="#fff" stroke="#ff1a1a" stroke-width="1.4"/>
<circle cx="184.6" cy="236.3" r="2.15" fill="#fff" stroke="#ff1a1a" stroke-width="1.4"/>
<circle cx="189" cy="234.7" r="2.15" fill="#fff" stroke="#ff1a1a" stroke-width="1.4"/>
<circle cx="193.4" cy="233.4" r="2.15" fill="#fff" stroke="#ff1a1a" stroke-width="1.4"/>
<circle cx="198.1" cy="232.3" r="2.15" fill="#fff" stroke="#ff1a1a" stroke-width="1.4"/>
<circle cx="202.6" cy="231.9" r="2.15" fill="#fff" stroke="#ff1a1a" stroke-width="1.4"/>
<circle cx="207" cy="231.9" r="2.15" fill="#fff" stroke="#ff1a1a" stroke-width="1.4"/>
<circle cx="211.4" cy="231.9" r="2.15" fill="#fff" stroke="#ff1a1a" stroke-width="1.4"/>
<circle cx="215.7" cy="233.3" r="2.15" fill="#fff" stroke="#ff1a1a" stroke-width="1.4"/>
<circle cx="220.3" cy="235.5" r="2.15" fill="#fff" stroke="#ff1a1a" stroke-width="1.4"/>
<circle cx="224.7" cy="236.5" r="2.15" fill="#fff" stroke="#ff1a1a" stroke-width="1.4"/>
<circle cx="229.2" cy="238.8" r="2.15" fill="#fff" stroke="#ff1a1a" stroke-width="1.4"/>
<circle cx="233.7" cy="240" r="2.15" fill="#fff" stroke="#ff1a1a" stroke-width="1.4"/>
<circle cx="238.2" cy="240.1" r="2.15" fill="#fff" stroke="#ff1a1a" stroke-width="1.4"/>
<circle cx="242.6" cy="239.8" r="2.15" fill="#fff" stroke="#ff1a1a" stroke-width="1.4"/>
<circle cx="246.9" cy="239.3" r="2.15" fill="#fff" stroke="#ff1a1a" stroke-width="1.4"/>
<circle cx="251.3" cy="238.5" r="2.15" fill="#fff" stroke="#ff1a1a" stroke-width="1.4"/>
<circle cx="262" cy="234.1" r="2.15" fill="#fff" stroke="#ff1a1a" stroke-width="1.4"/>
<circle cx="268.8" cy="227.1" r="2.15" fill="#fff" stroke="#ff1a1a" stroke-width="1.4"/>
<circle cx="273.4" cy="219.9" r="2.15" fill="#fff" stroke="#ff1a1a" stroke-width="1.4"/>
<circle cx="278.4" cy="208.4" r="2.15" fill="#fff" stroke="#ff1a1a" stroke-width="1.4"/>
<circle cx="282.5" cy="196" r="2.15" fill="#fff" stroke="#ff1a1a" stroke-width="1.4"/>
<circle cx="287.5" cy="179.6" r="2.15" fill="#fff" stroke="#ff1a1a" stroke-width="1.4"/>
<circle cx="291.4" cy="158.3" r="2.15" fill="#fff" stroke="#ff1a1a" stroke-width="1.4"/>
<circle cx="296" cy="142.3" r="2.15" fill="#fff" stroke="#ff1a1a" stroke-width="1.4"/>
<circle cx="300.4" cy="127.2" r="2.15" fill="#fff" stroke="#ff1a1a" stroke-width="1.4"/>
<circle cx="304" cy="114.6" r="2.15" fill="#fff" stroke="#ff1a1a" stroke-width="1.4"/>
<circle cx="308.9" cy="108.3" r="2.15" fill="#fff" stroke="#ff1a1a" stroke-width="1.4"/>
<circle cx="313.3" cy="111.7" r="2.15" fill="#fff" stroke="#ff1a1a" stroke-width="1.4"/>
<circle cx="317.8" cy="114.6" r="2.15" fill="#fff" stroke="#ff1a1a" stroke-width="1.4"/>
<circle cx="322.2" cy="117.2" r="2.15" fill="#fff" stroke="#ff1a1a" stroke-width="1.4"/>
<circle cx="326.7" cy="120.6" r="2.15" fill="#fff" stroke="#ff1a1a" stroke-width="1.4"/>
<circle cx="331.1" cy="123.9" r="2.15" fill="#fff" stroke="#ff1a1a" stroke-width="1.4"/>
<circle cx="335.6" cy="121" r="2.15" fill="#fff" stroke="#ff1a1a" stroke-width="1.4"/>
<circle cx="339.9" cy="70" r="2.15" fill="#fff" stroke="#ff1a1a" stroke-width="1.4"/>
<circle cx="344.2" cy="39.9" r="2.15" fill="#fff" stroke="#ff1a1a" stroke-width="1.4"/>
<polyline points="171.4,196 176.2,193.7 180,181.4 184.8,183.1 189,174.6 193.2,175 198,171.6 202.8,178 207.2,183.6 211.6,183.6 215.6,202.5 220.4,210.2 224.8,217.2 229.1,230.1 233.6,235.4 237.9,237.9 242.6,243.5 246.9,242.1 251.4,242.3 259.7,236.2 262.9,234.6 265,242.8 268.9,221.8 273.2,216.7 277.9,201.2 281.7,187 286.7,168.6 290.7,152.3 295.6,140.1 300.4,132.8 304.4,125 308.9,122.1 313.3,123.4 317.8,125 322.2,139 326.7,143.9 331.6,141.2 336,128.3 340,88.5 344.5,51.5" fill="none" stroke="#1a1aff" stroke-width="1.75" stroke-linejoin="round"/>
<polygon points="171.4,193.05 172.22,195.17 174.49,195.3 172.73,196.73 173.31,198.93 171.4,197.7 169.49,198.93 170.07,196.73 168.31,195.3 170.58,195.17" fill="#fff" stroke="#1a1aff" stroke-width="1.4" stroke-linejoin="round"/>
<polygon points="176.2,190.75 177.02,192.87 179.29,193 177.53,194.43 178.11,196.63 176.2,195.4 174.29,196.63 174.87,194.43 173.11,193 175.38,192.87" fill="#fff" stroke="#1a1aff" stroke-width="1.4" stroke-linejoin="round"/>
<polygon points="180,178.45 180.82,180.57 183.09,180.7 181.33,182.13 181.91,184.33 180,183.1 178.09,184.33 178.67,182.13 176.91,180.7 179.18,180.57" fill="#fff" stroke="#1a1aff" stroke-width="1.4" stroke-linejoin="round"/>
<polygon points="184.8,180.15 185.62,182.27 187.89,182.4 186.13,183.83 186.71,186.03 184.8,184.8 182.89,186.03 183.47,183.83 181.71,182.4 183.98,182.27" fill="#fff" stroke="#1a1aff" stroke-width="1.4" stroke-linejoin="round"/>
<polygon points="189,171.65 189.82,173.77 192.09,173.9 190.33,175.33 190.91,177.53 189,176.3 187.09,177.53 187.67,175.33 185.91,173.9 188.18,173.77" fill="#fff" stroke="#1a1aff" stroke-width="1.4" stroke-linejoin="round"/>
<polygon points="193.2,172.05 194.02,174.17 196.29,174.3 194.53,175.73 195.11,177.93 193.2,176.7 191.29,177.93 191.87,175.73 190.11,174.3 192.38,174.17" fill="#fff" stroke="#1a1aff" stroke-width="1.4" stroke-linejoin="round"/>
<polygon points="198,168.65 198.82,170.77 201.09,170.9 199.33,172.33 199.91,174.53 198,173.3 196.09,174.53 196.67,172.33 194.91,170.9 197.18,170.77" fill="#fff" stroke="#1a1aff" stroke-width="1.4" stroke-linejoin="round"/>
<polygon points="202.8,175.05 203.62,177.17 205.89,177.3 204.13,178.73 204.71,180.93 202.8,179.7 200.89,180.93 201.47,178.73 199.71,177.3 201.98,177.17" fill="#fff" stroke="#1a1aff" stroke-width="1.4" stroke-linejoin="round"/>
<polygon points="207.2,180.65 208.02,182.77 210.29,182.9 208.53,184.33 209.11,186.53 207.2,185.3 205.29,186.53 205.87,184.33 204.11,182.9 206.38,182.77" fill="#fff" stroke="#1a1aff" stroke-width="1.4" stroke-linejoin="round"/>
<polygon points="211.6,180.65 212.42,182.77 214.69,182.9 212.93,184.33 213.51,186.53 211.6,185.3 209.69,186.53 210.27,184.33 208.51,182.9 210.78,182.77" fill="#fff" stroke="#1a1aff" stroke-width="1.4" stroke-linejoin="round"/>
<polygon points="215.6,199.55 216.42,201.67 218.69,201.8 216.93,203.23 217.51,205.43 215.6,204.2 213.69,205.43 214.27,203.23 212.51,201.8 214.78,201.67" fill="#fff" stroke="#1a1aff" stroke-width="1.4" stroke-linejoin="round"/>
<polygon points="220.4,207.25 221.22,209.37 223.49,209.5 221.73,210.93 222.31,213.13 220.4,211.9 218.49,213.13 219.07,210.93 217.31,209.5 219.58,209.37" fill="#fff" stroke="#1a1aff" stroke-width="1.4" stroke-linejoin="round"/>
<polygon points="224.8,214.25 225.62,216.37 227.89,216.5 226.13,217.93 226.71,220.13 224.8,218.9 222.89,220.13 223.47,217.93 221.71,216.5 223.98,216.37" fill="#fff" stroke="#1a1aff" stroke-width="1.4" stroke-linejoin="round"/>
<polygon points="229.1,227.15 229.92,229.27 232.19,229.4 230.43,230.83 231.01,233.03 229.1,231.8 227.19,233.03 227.77,230.83 226.01,229.4 228.28,229.27" fill="#fff" stroke="#1a1aff" stroke-width="1.4" stroke-linejoin="round"/>
<polygon points="233.6,232.45 234.42,234.57 236.69,234.7 234.93,236.13 235.51,238.33 233.6,237.1 231.69,238.33 232.27,236.13 230.51,234.7 232.78,234.57" fill="#fff" stroke="#1a1aff" stroke-width="1.4" stroke-linejoin="round"/>
<polygon points="237.9,234.95 238.72,237.07 240.99,237.2 239.23,238.63 239.81,240.83 237.9,239.6 235.99,240.83 236.57,238.63 234.81,237.2 237.08,237.07" fill="#fff" stroke="#1a1aff" stroke-width="1.4" stroke-linejoin="round"/>
<polygon points="242.6,240.55 243.42,242.67 245.69,242.8 243.93,244.23 244.51,246.43 242.6,245.2 240.69,246.43 241.27,244.23 239.51,242.8 241.78,242.67" fill="#fff" stroke="#1a1aff" stroke-width="1.4" stroke-linejoin="round"/>
<polygon points="246.9,239.15 247.72,241.27 249.99,241.4 248.23,242.83 248.81,245.03 246.9,243.8 244.99,245.03 245.57,242.83 243.81,241.4 246.08,241.27" fill="#fff" stroke="#1a1aff" stroke-width="1.4" stroke-linejoin="round"/>
<polygon points="251.4,239.35 252.22,241.47 254.49,241.6 252.73,243.03 253.31,245.23 251.4,244 249.49,245.23 250.07,243.03 248.31,241.6 250.58,241.47" fill="#fff" stroke="#1a1aff" stroke-width="1.4" stroke-linejoin="round"/>
<polygon points="259.7,233.25 260.52,235.37 262.79,235.5 261.03,236.93 261.61,239.13 259.7,237.9 257.79,239.13 258.37,236.93 256.61,235.5 258.88,235.37" fill="#fff" stroke="#1a1aff" stroke-width="1.4" stroke-linejoin="round"/>
<polygon points="262.9,231.65 263.72,233.77 265.99,233.9 264.23,235.33 264.81,237.53 262.9,236.3 260.99,237.53 261.57,235.33 259.81,233.9 262.08,233.77" fill="#fff" stroke="#1a1aff" stroke-width="1.4" stroke-linejoin="round"/>
<polygon points="265,239.85 265.82,241.97 268.09,242.1 266.33,243.53 266.91,245.73 265,244.5 263.09,245.73 263.67,243.53 261.91,242.1 264.18,241.97" fill="#fff" stroke="#1a1aff" stroke-width="1.4" stroke-linejoin="round"/>
<polygon points="268.9,218.85 269.72,220.97 271.99,221.1 270.23,222.53 270.81,224.73 268.9,223.5 266.99,224.73 267.57,222.53 265.81,221.1 268.08,220.97" fill="#fff" stroke="#1a1aff" stroke-width="1.4" stroke-linejoin="round"/>
<polygon points="273.2,213.75 274.02,215.87 276.29,216 274.53,217.43 275.11,219.63 273.2,218.4 271.29,219.63 271.87,217.43 270.11,216 272.38,215.87" fill="#fff" stroke="#1a1aff" stroke-width="1.4" stroke-linejoin="round"/>
<polygon points="277.9,198.25 278.72,200.37 280.99,200.5 279.23,201.93 279.81,204.13 277.9,202.9 275.99,204.13 276.57,201.93 274.81,200.5 277.08,200.37" fill="#fff" stroke="#1a1aff" stroke-width="1.4" stroke-linejoin="round"/>
<polygon points="281.7,184.05 282.52,186.17 284.79,186.3 283.03,187.73 283.61,189.93 281.7,188.7 279.79,189.93 280.37,187.73 278.61,186.3 280.88,186.17" fill="#fff" stroke="#1a1aff" stroke-width="1.4" stroke-linejoin="round"/>
<polygon points="286.7,165.65 287.52,167.77 289.79,167.9 288.03,169.33 288.61,171.53 286.7,170.3 284.79,171.53 285.37,169.33 283.61,167.9 285.88,167.77" fill="#fff" stroke="#1a1aff" stroke-width="1.4" stroke-linejoin="round"/>
<polygon points="290.7,149.35 291.52,151.47 293.79,151.6 292.03,153.03 292.61,155.23 290.7,154 288.79,155.23 289.37,153.03 287.61,151.6 289.88,151.47" fill="#fff" stroke="#1a1aff" stroke-width="1.4" stroke-linejoin="round"/>
<polygon points="295.6,137.15 296.42,139.27 298.69,139.4 296.93,140.83 297.51,143.03 295.6,141.8 293.69,143.03 294.27,140.83 292.51,139.4 294.78,139.27" fill="#fff" stroke="#1a1aff" stroke-width="1.4" stroke-linejoin="round"/>
<polygon points="300.4,129.85 301.22,131.97 303.49,132.1 301.73,133.53 302.31,135.73 300.4,134.5 298.49,135.73 299.07,133.53 297.31,132.1 299.58,131.97" fill="#fff" stroke="#1a1aff" stroke-width="1.4" stroke-linejoin="round"/>
<polygon points="304.4,122.05 305.22,124.17 307.49,124.3 305.73,125.73 306.31,127.93 304.4,126.7 302.49,127.93 303.07,125.73 301.31,124.3 303.58,124.17" fill="#fff" stroke="#1a1aff" stroke-width="1.4" stroke-linejoin="round"/>
<polygon points="308.9,119.15 309.72,121.27 311.99,121.4 310.23,122.83 310.81,125.03 308.9,123.8 306.99,125.03 307.57,122.83 305.81,121.4 308.08,121.27" fill="#fff" stroke="#1a1aff" stroke-width="1.4" stroke-linejoin="round"/>
<polygon points="313.3,120.45 314.12,122.57 316.39,122.7 314.63,124.13 315.21,126.33 313.3,125.1 311.39,126.33 311.97,124.13 310.21,122.7 312.48,122.57" fill="#fff" stroke="#1a1aff" stroke-width="1.4" stroke-linejoin="round"/>
<polygon points="317.8,122.05 318.62,124.17 320.89,124.3 319.13,125.73 319.71,127.93 317.8,126.7 315.89,127.93 316.47,125.73 314.71,124.3 316.98,124.17" fill="#fff" stroke="#1a1aff" stroke-width="1.4" stroke-linejoin="round"/>
<polygon points="322.2,136.05 323.02,138.17 325.29,138.3 323.53,139.73 324.11,141.93 322.2,140.7 320.29,141.93 320.87,139.73 319.11,138.3 321.38,138.17" fill="#fff" stroke="#1a1aff" stroke-width="1.4" stroke-linejoin="round"/>
<polygon points="326.7,140.95 327.52,143.07 329.79,143.2 328.03,144.63 328.61,146.83 326.7,145.6 324.79,146.83 325.37,144.63 323.61,143.2 325.88,143.07" fill="#fff" stroke="#1a1aff" stroke-width="1.4" stroke-linejoin="round"/>
<polygon points="331.6,138.25 332.42,140.37 334.69,140.5 332.93,141.93 333.51,144.13 331.6,142.9 329.69,144.13 330.27,141.93 328.51,140.5 330.78,140.37" fill="#fff" stroke="#1a1aff" stroke-width="1.4" stroke-linejoin="round"/>
<polygon points="336,125.35 336.82,127.47 339.09,127.6 337.33,129.03 337.91,131.23 336,130 334.09,131.23 334.67,129.03 332.91,127.6 335.18,127.47" fill="#fff" stroke="#1a1aff" stroke-width="1.4" stroke-linejoin="round"/>
<polygon points="340,85.55 340.82,87.67 343.09,87.8 341.33,89.23 341.91,91.43 340,90.2 338.09,91.43 338.67,89.23 336.91,87.8 339.18,87.67" fill="#fff" stroke="#1a1aff" stroke-width="1.4" stroke-linejoin="round"/>
<polygon points="344.5,48.55 345.32,50.67 347.59,50.8 345.83,52.23 346.41,54.43 344.5,53.2 342.59,54.43 343.17,52.23 341.41,50.8 343.68,50.67" fill="#fff" stroke="#1a1aff" stroke-width="1.4" stroke-linejoin="round"/>
<text x="167.3" y="36.9" font-family="Liberation Serif" font-size="15.2" fill="#111" text-anchor="start" font-weight="bold" stroke="#111" stroke-width="0.3">(d)</text>
<text x="172.5" y="65.4" font-family="Liberation Serif" font-size="15.6" fill="#111" text-anchor="start" font-weight="bold" stroke="#111" stroke-width="0.3">E = 10 kV/cm</text>
<line x1="173.7" y1="83.1" x2="199.8" y2="83.1" stroke="#0a8a0a" stroke-width="2.1"/>
<polygon points="186.6,79.5 190.4,82.26 188.95,86.74 184.25,86.74 182.8,82.26" fill="#fff" stroke="#0a8a0a" stroke-width="1.7"/>
<line x1="173.7" y1="102.1" x2="199.8" y2="102.1" stroke="#ff1a1a" stroke-width="2.1"/>
<circle cx="186.6" cy="102.1" r="3.2" fill="#fff" stroke="#ff1a1a" stroke-width="1.7"/>
<line x1="173.7" y1="119.6" x2="199.8" y2="119.6" stroke="#1a1aff" stroke-width="2.1"/>
<polygon points="186.6,115.7 187.78,118.48 190.78,118.74 188.5,120.72 189.19,123.66 186.6,122.1 184.01,123.66 184.7,120.72 182.42,118.74 185.42,118.48" fill="#fff" stroke="#1a1aff" stroke-width="1.8" stroke-linejoin="round"/>
<text x="201.9" y="86.5" font-family="Liberation Serif" font-size="11.3" font-weight="bold" fill="#111" stroke="#111" stroke-width="0.25">P<tspan dy="4.4" font-size="6.5">max</tspan><tspan dy="-4.4" font-size="11"> (&#956;C/cm<tspan dy="-5.6" font-size="5.5">2</tspan><tspan dy="5.6">)</tspan></tspan></text>
<text x="201.9" y="105.6" font-family="Liberation Serif" font-size="11.3" font-weight="bold" fill="#111" stroke="#111" stroke-width="0.25">P<tspan dy="4.4" font-size="6.5">r</tspan><tspan dy="-4.4" font-size="11"> (&#956;C/cm<tspan dy="-5.6" font-size="5.5">2</tspan><tspan dy="5.6">)</tspan></tspan></text>
<text x="201.9" y="124.3" font-family="Liberation Serif" font-size="11.3" font-weight="bold" fill="#111" stroke="#111" stroke-width="0.25">E<tspan dy="4.4" font-size="6.5">c</tspan><tspan dy="-4.4" font-size="11"> (volt/cm)</tspan></text>
<text x="270.8" y="286.6" font-family="Liberation Serif" font-size="15.8" fill="#111" text-anchor="start" font-weight="bold" stroke="#111" stroke-width="0.3">T (K)</text></svg>
</body></html>
